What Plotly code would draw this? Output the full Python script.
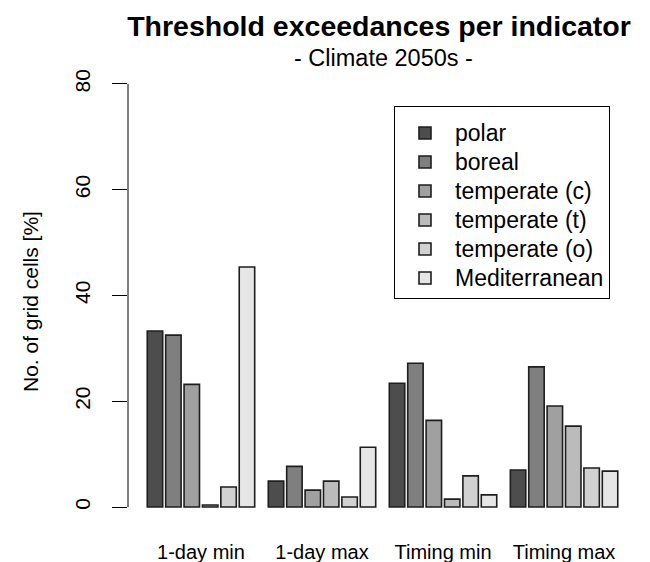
import plotly.graph_objects as go

indicators = ["1-day min", "1-day max", "Timing min", "Timing max"]
regions = ["polar", "boreal", "temperate (c)", "temperate (t)", "temperate (o)", "Mediterranean"]
colors = ["#4D4D4D", "#7F7F7F", "#A0A0A0", "#BBBBBB", "#D1D1D1", "#E6E6E6"]

polar = [33.3, 4.9, 23.4, 7.0]
boreal = [32.5, 7.7, 27.2, 26.5]
temperate_c = [23.2, 3.2, 16.4, 19.1]
temperate_t = [0.4, 4.9, 1.5, 15.3]
temperate_o = [3.8, 1.9, 5.9, 7.4]
mediterranean = [45.4, 11.3, 2.3, 6.8]
series = [polar, boreal, temperate_c, temperate_t, temperate_o, mediterranean]

y_ticks = [0, 20, 40, 60, 80]

FONT = "Liberation Sans, Arial, sans-serif"
# page body margin offsets the figure by 8px in the screenshot
OFF = 8
W, H = 650 - OFF, 562 - OFF
L, T = 128 - OFF, 67 - OFF
R = W - (630 - OFF)
B = H - (524 - OFF)
PW, PH = W - L - R, H - T - B


def px(xs):
    return (xs - OFF - L) / PW


def py(ys):
    return (H - B - (ys - OFF)) / PH


fig = go.Figure()
for name, vals, col in zip(regions, series, colors):
    fig.add_trace(go.Bar(
        x=indicators, y=vals, name="<span style='font-size:23px'>%s</span>" % name,
        marker=dict(color=col, line=dict(color="#1e1e1e", width=1.6)),
    ))

fig.update_layout(
    width=W, height=H,
    margin=dict(l=L, r=R, t=T, b=B, autoexpand=False),
    paper_bgcolor="white", plot_bgcolor="white",
    barmode="group", bargap=0.088, bargroupgap=0.16,
    font=dict(family=FONT, color="black", size=20),
    title=dict(text="<b>Threshold exceedances per indicator</b>",
               x=(379 - OFF) / W, xanchor="center", y=1 - (26 - OFF) / H, yanchor="middle",
               font=dict(size=28.5, family=FONT, color="black")),
    showlegend=True,
    legend=dict(x=px(394), y=py(106), xanchor="left", yanchor="top",
                bordercolor="black", borderwidth=1, bgcolor="white",
                font=dict(size=20, family=FONT, color="black"),
                title=dict(text=" ", font=dict(size=5)),
                itemwidth=50, traceorder="normal"),
    xaxis=dict(range=[-0.603, 3.545], showline=False, showgrid=False, zeroline=False,
               automargin=False,
               ticks="", ticklabelstandoff=14, tickfont=dict(size=20)),
    yaxis=dict(range=[-3.2, 83.2], tickvals=y_ticks, showline=False, showgrid=False,
               automargin=False,
               zeroline=False, ticks="outside", ticklen=15, tickwidth=1, tickcolor="black",
               tickangle=-90, tickfont=dict(size=21), ticklabelstandoff=14),
    annotations=[
        dict(text="- Climate 2050s -", xref="paper", yref="paper",
             x=px(383), y=py(58), xanchor="center", yanchor="middle",
             showarrow=False, font=dict(size=23.5, family=FONT, color="black")),
        dict(text="No. of grid cells [%]", xref="paper", yref="paper",
             x=px(30), y=py(302), xanchor="center", yanchor="middle",
             textangle=-90, showarrow=False, font=dict(size=21, family=FONT, color="black")),
    ],
    shapes=[dict(type="line", xref="paper", yref="y", x0=0, x1=0, y0=0, y1=80,
                 line=dict(color="black", width=1))],
)

fig.write_html("out.html")
